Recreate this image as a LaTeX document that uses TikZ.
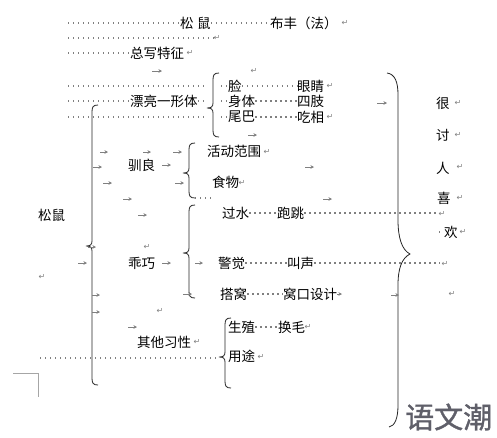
\documentclass[tikz,border=0pt]{standalone}
\usepackage{fontspec}
\newfontfamily\cjk{Noto Sans CJK SC}
\newfontfamily\cjkbold[FakeBold=1.2]{Noto Sans CJK SC}
\newfontfamily\symf{DejaVu Sans}
\usetikzlibrary{arrows.meta}
\definecolor{logogray}{RGB}{95,95,105}
\newcommand\mybrace[4]{% line x, top y, cusp y, bottom y
  \draw[bracestyle] (#1+6,#2) .. controls (#1+1,#2) and (#1,#2+2) .. (#1,#2+7)
    -- (#1,#3-5) .. controls (#1,#3-1) and (#1-2,#3) .. (#1-6,#3)
    .. controls (#1-2,#3) and (#1,#3+1) .. (#1,#3+5)
    -- (#1,#4-7) .. controls (#1,#4-2) and (#1+1,#4) .. (#1+6,#4);}
\begin{document}
\begin{tikzpicture}[x=1pt,y=-1pt,
  txt/.style={font=\cjk\fontsize{13.5}{14}\selectfont, anchor=west, inner sep=0pt},
  lead/.style={draw=gray, line width=1.3pt, dash pattern=on 1.3pt off 3.7pt},
  tabarrow/.style={draw=gray, line width=0.8pt, -{Stealth[length=3.5pt,width=3.5pt]}},
  ret/.style={font=\symf\fontsize{8}{8}\selectfont, text=gray, inner sep=0pt},
  bracestyle/.style={draw=black!85, line width=0.8pt}]
\useasboundingbox[fill=white] (0,0) rectangle (497,437);

% ---------- text ----------
\node[txt] (song) at (180,23) {松\hspace{3.5pt}鼠};
\node[txt] (bufeng) at (270,23) {布丰（法）};
\node[txt] (zong) at (130,53) {总写特征};
\node[txt] (lian) at (228,86) {脸};
\node[txt] (yanjing) at (297,86) {眼睛};
\node[txt] (piaoliang) at (130,101) {漂亮一形体};
\node[txt] (shenti) at (228,101) {身体};
\node[txt] (sizhi) at (297,101) {四肢};
\node[txt] (weiba) at (228,117) {尾巴};
\node[txt] (chixiang) at (297,117) {吃相};
\node[txt] (huodong) at (207,151) {活动范围};
\node[txt] (xunliang) at (128,165) {驯良};
\node[txt] (shiwu) at (212,182) {食物};
\node[txt] (songshu) at (38,215) {松鼠};
\node[txt] (guoshui) at (222,213) {过水};
\node[txt] (paotiao) at (277,213) {跑跳};
\node[txt] (guaiqiao) at (128,263) {乖巧};
\node[txt] (jingjue) at (218,263) {警觉};
\node[txt] (jiaosheng) at (287,263) {叫声};
\node[txt] (dawo) at (220,294) {搭窝};
\node[txt] (wokou) at (283,294) {窝口设计};
\node[txt] (qita) at (137,342) {其他习性};
\node[txt] (shengzhi) at (228,327) {生殖};
\node[txt] (huanmao) at (278,327) {换毛};
\node[txt] (yongtu) at (228,356) {用途};
\node[txt] (hen) at (436,103) {很};
\node[txt] (tao) at (436,135) {讨};
\node[txt] (ren) at (436,168) {人};
\node[txt] (xi) at (437,198) {喜};
\node[txt] (huan) at (444,232) {欢};
\node[txt, font=\cjkbold\fontsize{29}{30}\selectfont, text=logogray] (logo) at (405,417) {语文潮};

% ---------- dotted leaders ----------
\draw[lead] (68,23) -- (song.west);
\draw[lead] (song.east) -- (bufeng.west);
\draw[lead] (68,38) -- (214,38);
\draw[lead] (68,53) -- (zong.west);
\draw[lead] (68,86) -- (206,86);
\draw[lead] (221,86) -- (lian.west);
\draw[lead] (lian.east) -- (yanjing.west);
\draw[lead] (68,101) -- (piaoliang.west);
\draw[lead] (piaoliang.east) -- (206,101);
\draw[lead] (221,101) -- (shenti.west);
\draw[lead] (shenti.east) -- (sizhi.west);
\draw[lead] (68,117) -- (206,117);
\draw[lead] (221,117) -- (weiba.west);
\draw[lead] (weiba.east) -- (chixiang.west);
\draw[lead] (195,198) -- (211,198);
\draw[lead] (guoshui.east) -- (paotiao.west);
\draw[lead] (paotiao.east) -- (438,213);
\draw[lead] (439,232) -- (441,232);
\draw[lead] (jingjue.east) -- (jiaosheng.west);
\draw[lead] (jiaosheng.east) -- (440,263);
\draw[lead] (dawo.east) -- (wokou.west);
\draw[lead] (shengzhi.east) -- (huanmao.west);
\draw[lead] (40,358) -- (216,358);

% ---------- braces ----------
\mybrace{213}{73}{108}{137}
\mybrace{92}{105}{246}{385}
\mybrace{189}{143}{173}{198}
\mybrace{189}{205}{253}{298}
\mybrace{225}{318}{357}{388}
\draw[bracestyle] (387,73) .. controls (395,74) and (398,82) .. (398,95) -- (398,220)
  .. controls (398,238) and (402,250) .. (410,254)
  .. controls (402,258) and (398,268) .. (398,285) -- (398,405)
  .. controls (398,418) and (395,426) .. (389,427);

% ---------- tab arrows ----------
\foreach \xa/\xb/\yy in {152/162/71, 377/387/103, 248/257/135,
  100/108/152, 143/151/152, 173/182/152, 93/102/167, 162/171/165,
  103/112/183, 175/184/183, 305/314/167, 123/132/199, 323/332/199,
  138/147/215, 88/96/247, 78/87/263, 162/171/263, 195/203/263,
  183/192/294, 337/342/294, 391/399/295, 92/100/295, 92/100/312, 128/137/327}
  \draw[tabarrow] (\xa,\yy) -- (\xb,\yy);

% ---------- paragraph marks ----------
\node[ret] (r1) at (345,23) {↵};
\node[ret] (r2) at (217,38) {↵};
\node[ret] (r3) at (190,53) {↵};
\node[ret] (r4) at (254,71) {↵};
\node[ret] (r5) at (330,86) {↵};
\node[ret] (r6) at (330,117) {↵};
\node[ret] (r7) at (458,103) {↵};
\node[ret] (r8) at (458,135) {↵};
\node[ret] (r9) at (460,167) {↵};
\node[ret] (r10) at (460,198) {↵};
\node[ret] (r11) at (463,232) {↵};
\node[ret] (r12) at (442,214) {↵};
\node[ret] (r13) at (267,152) {↵};
\node[ret] (r14) at (242,183) {↵};
\node[ret] (r15) at (147,247) {↵};
\node[ret] (r16) at (42,277) {↵};
\node[ret] (r17) at (445,264) {↵};
\node[ret] (r18) at (452,294) {↵};
\node[ret] (r19) at (160,311) {↵};
\node[ret] (r20) at (197,342) {↵};
\node[ret] (r21) at (308,327) {↵};
\node[ret] (r22) at (261,357) {↵};

% ---------- corner mark ----------
\draw[gray!70, line width=0.7pt] (13,373) -- (38,373) -- (38,397);
\end{tikzpicture}
\end{document}
